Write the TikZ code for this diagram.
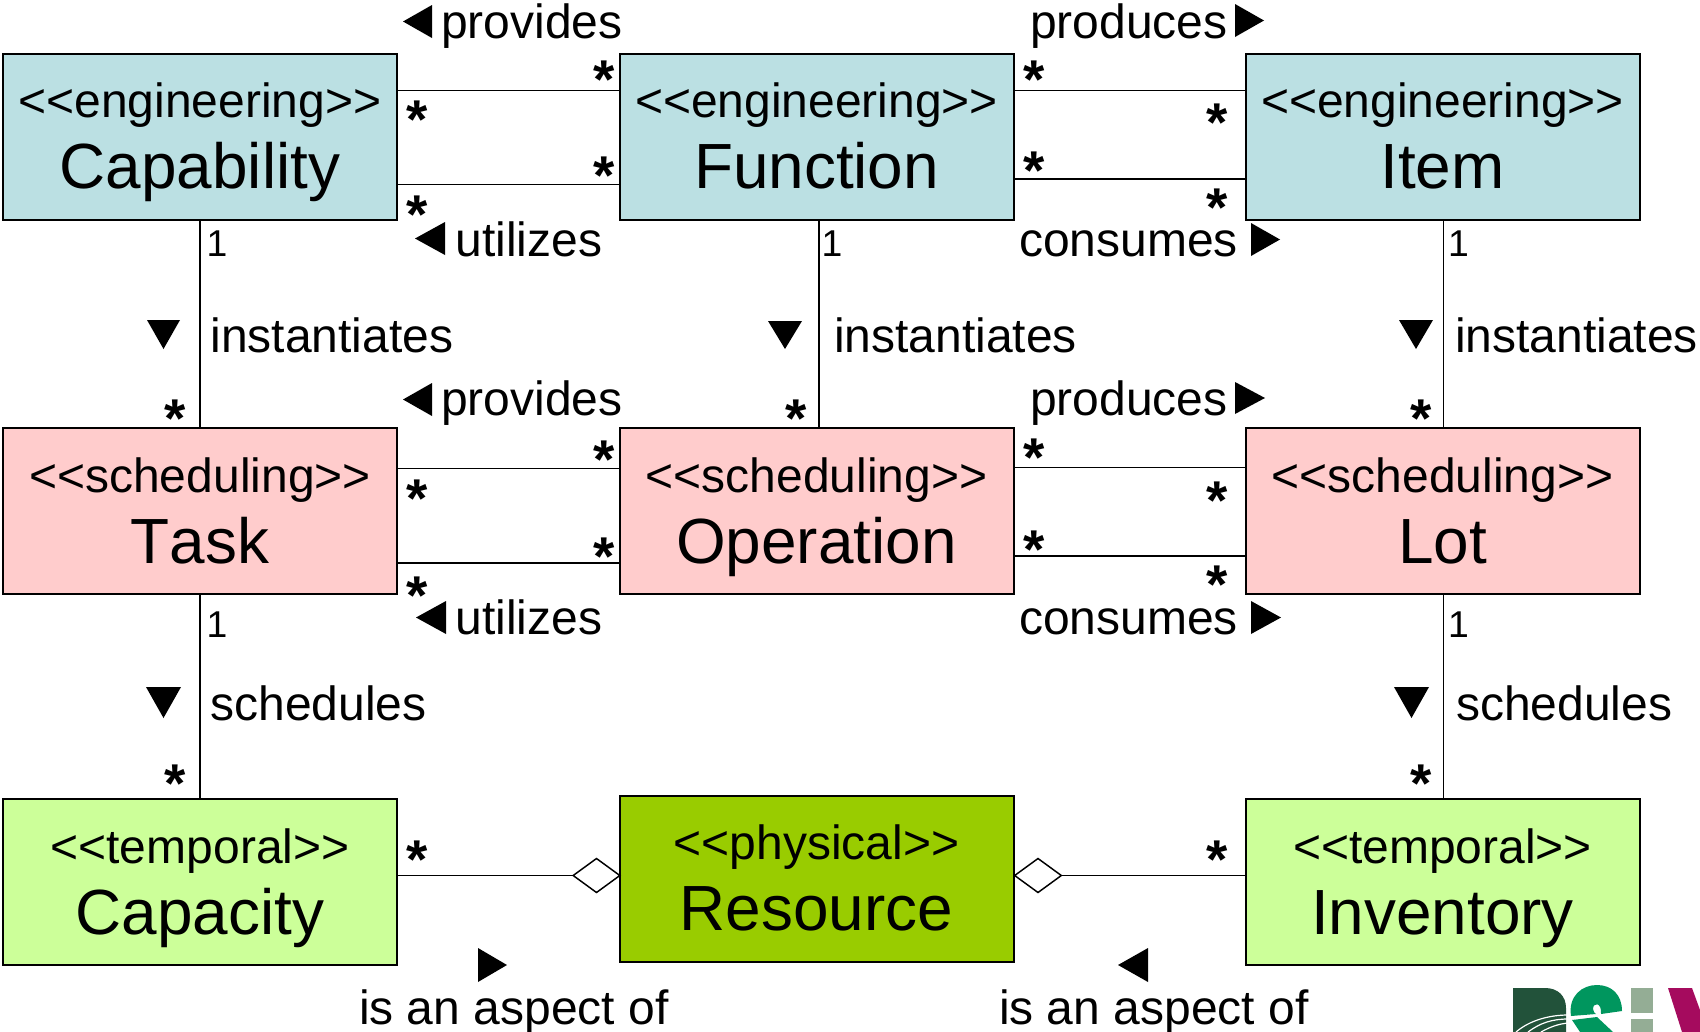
\documentclass[tikz,border=0pt]{standalone}
\usepackage{fontspec}
\setmainfont[Kerning=Off]{Liberation Sans}
\usetikzlibrary{shapes.geometric}
\definecolor{engfill}{HTML}{BBE0E3}
\definecolor{schedfill}{HTML}{FFCCCC}
\definecolor{tempfill}{HTML}{CCFF99}
\definecolor{physfill}{HTML}{99CC00}
\definecolor{logodark}{HTML}{22523A}
\definecolor{logogreen}{HTML}{00965E}
\definecolor{logogrey}{HTML}{94AD95}
\definecolor{logopurple}{HTML}{A50B5E}
\newcommand{\fpx}[1]{\fontsize{#1}{#1}\selectfont}
\newcommand{\guil}[1]{{<}{<}#1{>}{>}}
% two lines set on fixed baselines around the box centre
\newcommand{\boxtext}[2]{%
  \raisebox{14.25pt}[0pt][0pt]{\makebox[0pt]{\fpx{36pt}\guil{#1}}}%
  \raisebox{-39.25pt}[0pt][0pt]{\makebox[0pt]{\fpx{47.9pt}#2}}}
\tikzset{
  umlbox/.style={draw=black,line width=1.5pt,inner sep=0pt,outer sep=0pt,
    minimum width=295.5pt,minimum height=124.5pt},
  conn/.style={draw=black,line width=1.4pt},
  lab/.style={anchor=base west,inner sep=0pt,outer sep=0pt,font=\fpx{36pt}},
  one/.style={anchor=base west,inner sep=0pt,outer sep=0pt,font=\fpx{28pt}},
  mult/.style={anchor=base,inner sep=0pt,outer sep=0pt,xshift=0.6pt,yshift=-20pt,font=\fontseries{b}\fpx{41pt}},
  agg/.style={diamond,draw=black,fill=white,line width=1.1pt,inner sep=0pt,outer sep=0pt,
    shape aspect=1.38,minimum width=35pt,minimum height=25.5pt},
}
\begin{document}
\begin{tikzpicture}[x=0.75pt,y=-0.75pt]
\useasboundingbox (0,0) rectangle (1700,1032);
\clip (0,0) rectangle (1700,1032);
% boxes
\node[umlbox,fill=engfill] (cap) at (200,136.5) {\boxtext{engineering}{Capability}};
\node[umlbox,fill=engfill] (fun) at (816.5,136.5) {\boxtext{engineering}{Function}};
\node[umlbox,fill=engfill] (itm) at (1442.5,136.5) {\boxtext{engineering}{Item}};
\node[umlbox,fill=schedfill] (tsk) at (200,511) {\boxtext{scheduling}{Task}};
\node[umlbox,fill=schedfill] (opr) at (816.5,511) {\boxtext{scheduling}{Operation}};
\node[umlbox,fill=schedfill] (lot) at (1442.5,511) {\boxtext{scheduling}{Lot}};
\node[umlbox,fill=tempfill] (cpc) at (200,882) {\boxtext{temporal}{Capacity}};
\node[umlbox,fill=physfill] (res) at (816.5,878.5) {\boxtext{physical}{Resource}};
\node[umlbox,fill=tempfill] (inv) at (1442.5,882) {\boxtext{temporal}{Inventory}};
% helper levels for connectors that leave a box off its centre
\coordinate (ya) at (0,90.5);
\coordinate (yb) at (0,184.5);
\coordinate (yc) at (0,179);
\coordinate (yd) at (0,468.5);
\coordinate (ye) at (0,563);
\coordinate (yf) at (0,467.5);
\coordinate (yg) at (0,556);
\coordinate (xf) at (819,0);
\coordinate (xi) at (1443.5,0);
% horizontal associations
\draw[conn] (cap.east |- ya) -- (fun.west |- ya);
\draw[conn] (cap.east |- yb) -- (fun.west |- yb);
\draw[conn] (fun.east |- ya) -- (itm.west |- ya);
\draw[conn] (fun.east |- yc) -- (itm.west |- yc);
\draw[conn] (tsk.east |- yd) -- (opr.west |- yd);
\draw[conn] (tsk.east |- ye) -- (opr.west |- ye);
\draw[conn] (opr.east |- yf) -- (lot.west |- yf);
\draw[conn] (opr.east |- yg) -- (lot.west |- yg);
% vertical associations
\draw[conn] (cap.south) -- (tsk.north);
\draw[conn] (fun.south -| xf) -- (opr.north -| xf);
\draw[conn] (itm.south -| xi) -- (lot.north -| xi);
\draw[conn] (tsk.south) -- (cpc.north);
\draw[conn] (lot.south -| xi) -- (inv.north -| xi);
% aggregations
\node[agg] (da) at (596.5,875.5) {};
\node[agg] (db) at (1038,875.5) {};
\draw[conn] (cpc.east |- da) -- (da.west);
\draw[conn] (inv.west |- db) -- (db.east);
% labels, row 1
\node[lab] (l1) at (441,38) {provides};
\node[lab] (l2) at (455.5,256) {utilizes};
\node[lab] (l3) at (1030,38) {produces};
\node[lab] (l4) at (1019,256) {consumes};
\node[lab] (l5) at (210.5,352) {instantiates};
\node[lab] (l6) at (834,352) {instantiates};
\node[lab] (l7) at (1455,352) {instantiates};
% labels, row 2
\node[lab] (l8) at (441,415) {provides};
\node[lab] (l9) at (455.5,634) {utilizes};
\node[lab] (l10) at (1030,415) {produces};
\node[lab] (l11) at (1019,634) {consumes};
\node[lab] (l12) at (210.5,720) {schedules};
\node[lab] (l13) at (1456,720) {schedules};
\node[lab] (l14) at (359,1024) {is an aspect of};
\node[lab] (l15) at (999,1024) {is an aspect of};
% ones
\node[one] (o1) at (206.5,256) {1};
\node[one] (o2) at (821.5,256) {1};
\node[one] (o3) at (1448,256) {1};
\node[one] (o4) at (206.5,637) {1};
\node[one] (o5) at (1448,637) {1};
% stars
\node[mult] (s1) at (603,72) {*};
\node[mult] (s2) at (416,112) {*};
\node[mult] (s3) at (603,168) {*};
\node[mult] (s4) at (416,207) {*};
\node[mult] (s5) at (1033,72) {*};
\node[mult] (s6) at (1216,115) {*};
\node[mult] (s7) at (1033,163) {*};
\node[mult] (s8) at (1216,200) {*};
\node[mult] (s9) at (174.5,411) {*};
\node[mult] (s10) at (795,411) {*};
\node[mult] (s11) at (1420,411) {*};
\node[mult] (s12) at (603,452) {*};
\node[mult] (s13) at (416,491) {*};
\node[mult] (s14) at (603,549) {*};
\node[mult] (s15) at (416,588) {*};
\node[mult] (s16) at (1033,450) {*};
\node[mult] (s17) at (1216,493) {*};
\node[mult] (s18) at (1033,542) {*};
\node[mult] (s19) at (1216,577) {*};
\node[mult] (s20) at (174.5,776) {*};
\node[mult] (s21) at (1420,776) {*};
\node[mult] (s22) at (416,852) {*};
\node[mult] (s23) at (1216,852) {*};
% direction triangles
\fill (432,5) -- (432,38) -- (403,21.5) -- cycle;
\fill (445,222) -- (445,255) -- (415,238.5) -- cycle;
\fill (1235,4) -- (1235,37) -- (1264,20.5) -- cycle;
\fill (1251,223) -- (1251,256) -- (1280,239.5) -- cycle;
\fill (147,320) -- (180,320) -- (163.5,349) -- cycle;
\fill (768,321) -- (802,321) -- (785,349) -- cycle;
\fill (1399,320) -- (1433,320) -- (1416,349) -- cycle;
\fill (432,383) -- (432,416) -- (403,399.5) -- cycle;
\fill (446,601) -- (446,634) -- (416,617.5) -- cycle;
\fill (1235,382) -- (1235,414) -- (1265,398) -- cycle;
\fill (1251,601) -- (1251,634) -- (1281,617.5) -- cycle;
\fill (146,687) -- (181,687) -- (163.5,718) -- cycle;
\fill (1394,687) -- (1429,687) -- (1411.5,718) -- cycle;
\fill (478,948) -- (478,982) -- (507,965) -- cycle;
\fill (1148,948) -- (1148,982) -- (1118,965) -- cycle;
% logo, cut off by the picture's edge
\fill[logodark] (1513,988) -- (1545,988) .. controls (1558,988) and (1566,996) .. (1566,1008) -- (1566,1032) -- (1513,1032) -- cycle;
\draw[white,line width=0.9pt] (1516,1032) .. controls (1530,1020) and (1550,1015) .. (1568,1015);
\draw[white,line width=0.9pt] (1528,1032) .. controls (1540,1023) and (1552,1019) .. (1568,1019);
\draw[white,line width=0.9pt] (1541,1032) .. controls (1550,1027) and (1558,1024) .. (1568,1023);
\fill[logogreen] (1571,1016) .. controls (1568,996) and (1582,985) .. (1597,985) .. controls (1612,985) and (1622,995) .. (1622,1011) -- (1601,1014) .. controls (1602,1002) and (1593,1002) .. (1593,1009) .. controls (1593,1012) and (1595,1013) .. (1596,1014) -- cycle;
\fill[logogreen] (1572,1020) -- (1597,1017) -- (1613,1032) -- (1580,1032) -- cycle;
\fill[logogrey] (1631,988) rectangle (1653,1013);
\fill[logogrey] (1631,1019) rectangle (1653,1032);
\fill[logopurple] (1668,988) -- (1692,988) -- (1700,1010) -- (1700,1032) -- (1682,1032) -- cycle;
\end{tikzpicture}
\end{document}
